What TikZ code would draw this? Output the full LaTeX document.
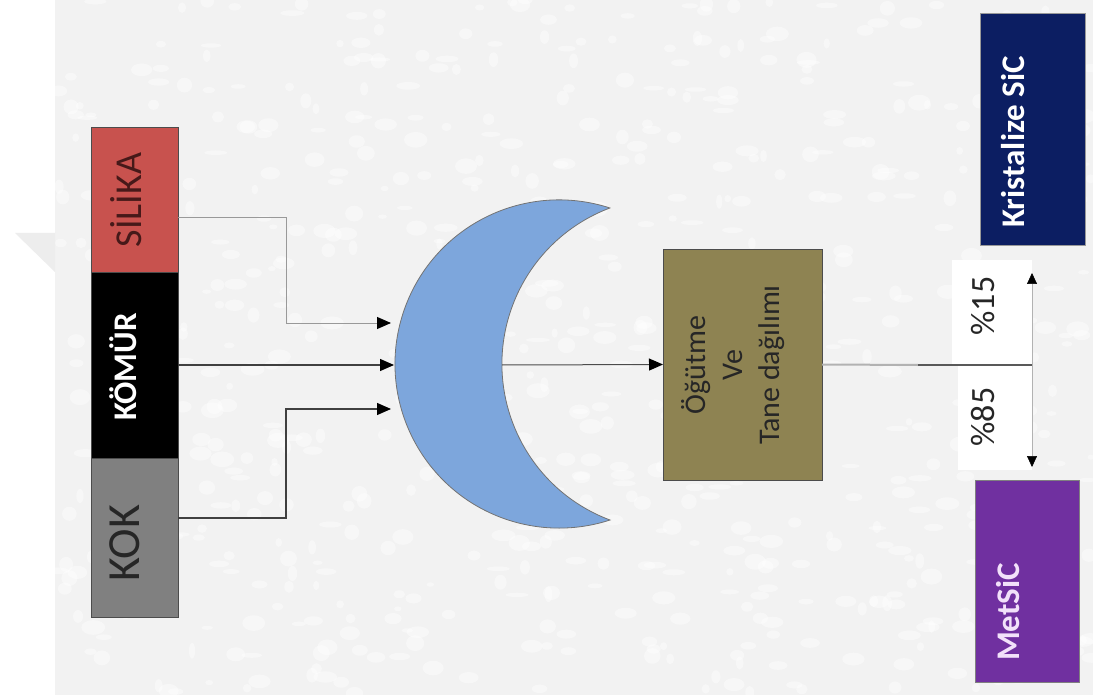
\documentclass[tikz,border=0pt]{standalone}
\usepackage{fontspec}
\setmainfont{Carlito}
\usetikzlibrary{arrows.meta,calc}
\definecolor{bgcol}{RGB}{242,242,242}
\definecolor{silikacol}{RGB}{200,82,78}
\definecolor{silikatext}{RGB}{70,25,25}
\definecolor{kokcol}{RGB}{128,128,128}
\definecolor{oglcol}{RGB}{142,131,82}
\definecolor{navycol}{RGB}{12,30,98}
\definecolor{purpcol}{RGB}{112,48,160}
\definecolor{crescol}{RGB}{125,166,220}
\definecolor{mettext}{RGB}{242,225,250}
\begin{document}
\begin{tikzpicture}[x=1pt,y=-1pt,
  box/.style={draw=black!70, line width=0.8pt, inner sep=0pt, outer sep=0pt},
  vtext/.style={rotate=90, inner sep=0pt},
  conn/.style={line width=1.3pt, draw=black!75},
  bigtip/.style={-{Triangle[length=14pt,width=12pt,color=black]}},
  smalltip/.style={-{Triangle[length=11pt,width=10pt,color=black]}}
]
\useasboundingbox (0,0) rectangle (1093,695);
\fill[bgcol] (0,0) rectangle (1093,695);
% faint mottled texture
\pgfmathsetseed{4}
\foreach \i in {1,...,700}{
  \fill[white, opacity=0.45] ({55+rnd*1038},{rnd*695}) ellipse[x radius={3+rnd*9}, y radius={2+rnd*6}];
}
\fill[white] (0,0) rectangle (55,695);
\fill[black!7] (15,233) -- (55,233) -- (55,272) -- cycle;

% left stack
\node[box, fill=silikacol, minimum width=87pt, minimum height=145pt] (silika) at (134.5,199.5) {};
\node[box, fill=black, minimum width=87pt, minimum height=186pt] (komur) at (134.5,365) {};
\node[box, fill=kokcol, minimum width=87pt, minimum height=159pt] (kok) at (134.5,537.5) {};
\node[vtext, text=silikatext, font=\fontsize{38}{40}\selectfont] (tsilika) at (126,200) {SİLİKA};
\node[vtext, text=white, font=\bfseries\fontsize{33}{36}\selectfont] (tkomur) at (123,367) {KÖMÜR};
\node[vtext, text=black!85, font=\fontsize{46}{48}\selectfont] (tkok) at (125,543) {KOK};

% crescent
\draw[fill=crescol, draw=black!55, line width=0.8pt] (610,208)
  arc[start angle=288.07, end angle=71.93, radius=164.1]
  arc[start angle=110.6, end angle=249.4, radius=166.7] -- cycle;
\coordinate (c1) at (391,323);
\coordinate (c2) at (394,365);
\coordinate (c3) at (391,409);
\coordinate (cin) at (502,365);

% connectors into crescent
\draw[line width=1pt, draw=black!40, bigtip] ($(silika.east)+(0,18.5)$) -- ++(108,0) |- (c1);
\draw[conn, bigtip] (komur.east) -- (c2);
\draw[conn, bigtip] ($(kok.east)+(0,-19.5)$) -- ++(108,0) |- (c3);

% grinding box
\node[box, fill=oglcol, minimum width=159pt, minimum height=231pt] (ogut) at (742.5,364.5) {};
\node[vtext, align=center, text=black!85, font=\fontsize{30}{37}\selectfont] (togut) at (733,365) {Öğütme\\Ve\\Tane dağılımı};
\draw[line width=1pt, draw=black!70, bigtip] (cin) -- (ogut.west);

% split
\coordinate (mid) at (918,365);
\coordinate (split) at (1032,365);
\draw[line width=2pt, draw=black!30] (ogut.east) -- (mid);
\node[fill=white, inner sep=0pt, minimum width=80pt, minimum height=105pt] (w1) at (992,312.5) {};
\node[fill=white, inner sep=0pt, minimum width=74pt, minimum height=105pt] (w2) at (995,417.5) {};
\draw[line width=2pt, draw=black!65] (mid) -- (split);
\node[vtext, text=black!85, font=\fontsize{34}{36}\selectfont] (p15) at (983,306) {\%15};
\node[vtext, text=black!85, font=\fontsize{34}{36}\selectfont] (p85) at (983,417) {\%85};
\coordinate (up) at (1032,273);
\coordinate (down) at (1032,467);
\draw[line width=0.6pt, draw=black!30, smalltip] (split) -- (up);
\draw[line width=0.6pt, draw=black!30, smalltip] (split) -- (down);

% output boxes
\node[box, fill=navycol, draw=black!40, minimum width=105pt, minimum height=232pt] (kris) at (1032.5,129) {};
\node[vtext, text=white, font=\bfseries\fontsize{33}{36}\selectfont] (tkris) at (1013,142) {Kristalize SiC};
\node[box, fill=purpcol, draw=black!50, minimum width=104pt, minimum height=202pt] (met) at (1027,581) {};
\node[vtext, text=mettext, font=\bfseries\fontsize{33}{36}\selectfont] (tmet) at (1008,612) {MetSiC};
\end{tikzpicture}
\end{document}
